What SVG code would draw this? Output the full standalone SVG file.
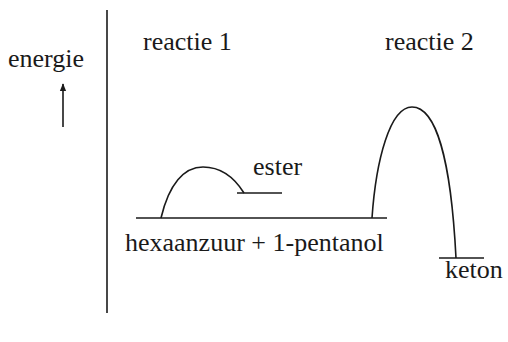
<svg xmlns="http://www.w3.org/2000/svg" width="508" height="342" viewBox="0 0 508 342">
<style>
  .t { font-family: 'Liberation Serif', 'Times New Roman', Times, 'DejaVu Serif', serif; font-size: 26px; fill: #1a1a1a; }
  .ln { stroke: #1a1a1a; stroke-width: 1.6; fill: none; }
</style>
<defs>
  <marker id="ah" viewBox="0 0 10 10" refX="9" refY="5" markerWidth="8" markerHeight="8" markerUnits="userSpaceOnUse" orient="auto">
    <path d="M0,1 L10,5 L0,9 Z" fill="#1a1a1a"/>
  </marker>
</defs>
<rect width="508" height="342" fill="#ffffff"/>
<g id="axis">
  <line class="ln" x1="107" y1="10" x2="107" y2="313" stroke-width="2"/>
  <text class="t" x="8" y="67" font-family="Liberation Serif, serif">energie</text>
  <line class="ln" x1="63" y1="127" x2="63" y2="84" stroke-width="1.3" marker-end="url(#ah)"/>
</g>
<g id="titles">
  <text class="t" x="143" y="50">reactie 1</text>
  <text class="t" x="385" y="50">reactie 2</text>
</g>
<g id="start">
  <line class="ln" x1="136" y1="218" x2="387" y2="218"/>
  <text class="t" x="125" y="251">hexaanzuur + 1-pentanol</text>
</g>
<g id="ester">
  <line class="ln" x1="237" y1="193" x2="282" y2="193"/>
  <text class="t" x="253" y="175">ester</text>
</g>
<g id="keton">
  <line class="ln" x1="439" y1="258" x2="484" y2="258"/>
  <text class="t" x="445" y="278">keton</text>
</g>
<g id="connectors">
  <path class="ln" d="M161,218 C169,184 184,167 203,167 C221,167 234,177 244,193"/>
  <path class="ln" d="M372,218 C376,160 390,107 412,107 C436,107 451,160 456,258"/>
</g>
</svg>
